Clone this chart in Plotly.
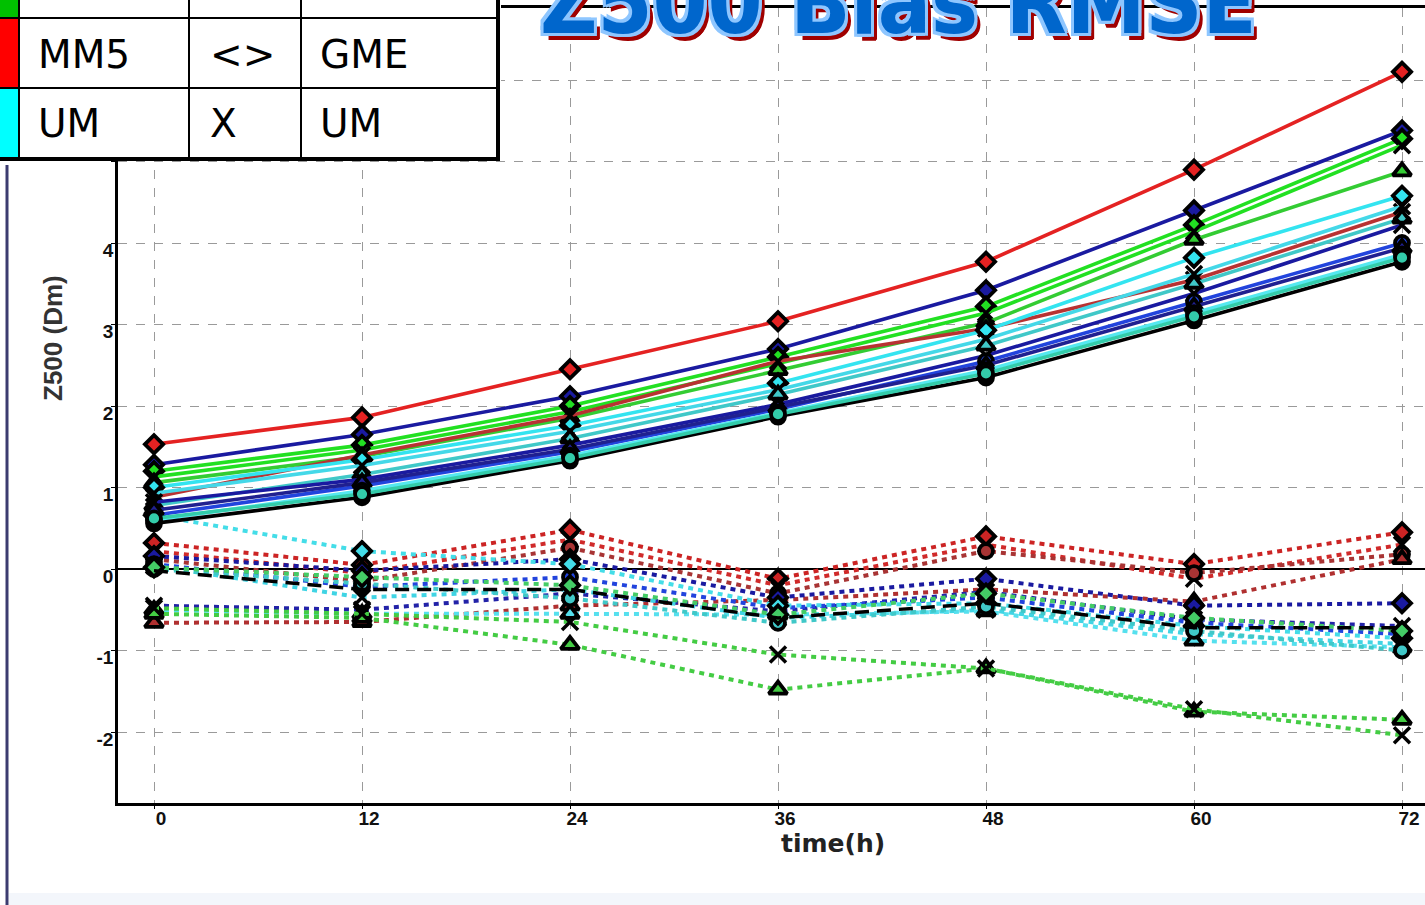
import plotly.graph_objects as go

W, H = 1425, 905

# ---------------- data ----------------
hours = [0, 12, 24, 36, 48, 60, 72]
x_ticks = [0, 12, 24, 36, 48, 60, 72]
y_ticks = [-2, -1, 0, 1, 2, 3, 4, 5, 6]
y_ticktext = ["-2", "-1", "0", "1", "2", "3", "4", "", ""]

# RMSE (solid lines)
rmse_names = ["MM5-GME", "R2-GME", "G1-GME", "G1-UM", "G1-T", "R3-UM", "UM-GME", "UM-UM",
              "T2-T", "R2-UM", "B1-C", "R2-T", "UM-C", "BK-C", "S1-C"]
rmse_values = [
    [1.53, 1.86, 2.45, 3.04, 3.77, 4.90, 6.10],
    [1.28, 1.65, 2.12, 2.70, 3.42, 4.40, 5.38],
    [1.20, 1.52, 2.00, 2.60, 3.22, 4.22, 5.28],
    [1.13, 1.46, 1.93, 2.52, 3.14, 4.14, 5.20],
    [1.06, 1.38, 1.85, 2.44, 3.02, 4.04, 4.88],
    [0.88, 1.40, 1.88, 2.55, 2.95, 3.55, 4.38],
    [1.00, 1.34, 1.76, 2.28, 2.93, 3.82, 4.58],
    [0.93, 1.27, 1.69, 2.20, 2.82, 3.62, 4.45],
    [0.78, 1.16, 1.60, 2.14, 2.74, 3.50, 4.30],
    [0.82, 1.10, 1.52, 2.02, 2.62, 3.38, 4.22],
    [0.66, 1.02, 1.44, 1.96, 2.55, 3.28, 4.00],
    [0.72, 1.06, 1.47, 1.98, 2.50, 3.22, 3.94],
    [0.60, 0.96, 1.39, 1.92, 2.44, 3.14, 3.86],
    [0.56, 0.88, 1.33, 1.87, 2.35, 3.05, 3.77],
    [0.62, 0.92, 1.36, 1.90, 2.40, 3.10, 3.82],
]
rmse_colors = ["#e42222", "#1a1aa0", "#22e022", "#22e022", "#33cc33", "#b83232", "#33e4f0",
               "#44d8e8", "#40c8c8", "#1a1aa0", "#2244dd", "#202090", "#55e8f0", "#000000", "#33ccaa"]
rmse_symbols = ["diamond", "diamond", "diamond", "x", "triangle-up", "x", "diamond", "x",
                "triangle-up", "x", "circle", "triangle-up", "circle", "circle", "circle"]

# Bias (dotted lines)
bias_names = ["MM5-GME b", "MM5-UM b", "R3-C b", "R3-T b", "R2-GME b", "R2-UM b", "B1-C b",
              "UM-GME b", "UM-UM b", "UM-T b", "T2-C b", "G1-GME b", "G1-T b", "G1-UM b"]
bias_values = [
    [0.32, 0.05, 0.48, -0.12, 0.40, 0.06, 0.45],
    [0.22, -0.05, 0.36, -0.20, 0.30, -0.12, 0.30],
    [0.12, -0.15, 0.26, -0.30, 0.22, -0.05, 0.18],
    [-0.66, -0.65, -0.45, -0.38, -0.25, -0.40, 0.12],
    [0.16, -0.02, 0.12, -0.35, -0.12, -0.45, -0.42],
    [-0.45, -0.50, -0.30, -0.52, -0.28, -0.62, -0.70],
    [0.06, -0.22, -0.10, -0.48, -0.35, -0.66, -0.80],
    [0.66, 0.22, 0.06, -0.45, -0.42, -0.70, -0.85],
    [0.04, -0.35, -0.25, -0.60, -0.50, -0.80, -0.92],
    [-0.50, -0.55, -0.55, -0.56, -0.52, -0.88, -0.96],
    [0.00, -0.18, -0.36, -0.66, -0.46, -0.76, -1.00],
    [0.02, -0.10, -0.20, -0.56, -0.30, -0.60, -0.76],
    [-0.55, -0.60, -0.93, -1.48, -1.22, -1.75, -1.85],
    [-0.48, -0.55, -0.65, -1.05, -1.22, -1.72, -2.04],
]
bias_colors = ["#cc2424", "#d02a2a", "#a83434", "#b03030", "#1a1aa0", "#2222a8", "#2244dd",
               "#44dde8", "#40d4e4", "#55e0ee", "#40c8c8", "#44cc66", "#44cc44", "#44cc44"]
bias_symbols = ["diamond", "x", "circle", "triangle-up", "diamond", "x", "circle",
                "diamond", "x", "triangle-up", "circle", "diamond", "triangle-up", "x"]

mean_bias = [-0.02, -0.25, -0.25, -0.60, -0.42, -0.72, -0.72]

# table legend
table_rows = [["", "", ""], ["MM5", "<>", "GME"], ["UM", "X", "UM"]]
table_swatches = ["#00c000", "#ff0000", "#00ffff"]

title_text = "Z500 Bias RMSE"
x_title = "time(h)"
y_title = "Z500 (Dm)"

# ---------------- helpers ----------------
def fx(px):
    return px / W

def fy(py):
    return 1 - py / H

def marker_for(symbol, color):
    if symbol == "x":
        return dict(symbol="x-thin", size=16, color="black", line=dict(color="black", width=3.5))
    return dict(symbol=symbol, size=14 if symbol != "triangle-up" else 16,
                color=color, line=dict(color="black", width=3.8))

fig = go.Figure()

for name, vals, col, sym in zip(bias_names, bias_values, bias_colors, bias_symbols):
    fig.add_trace(go.Scatter(x=hours, y=vals, mode="lines+markers", name=name,
                             line=dict(color=col, width=4, dash="5px,5px"),
                             marker=marker_for(sym, col)))

fig.add_trace(go.Scatter(x=hours, y=mean_bias, mode="lines", name="mean bias",
                         line=dict(color="black", width=3.5, dash="14px,8px")))

for name, vals, col, sym in zip(rmse_names, rmse_values, rmse_colors, rmse_symbols):
    fig.add_trace(go.Scatter(x=hours, y=vals, mode="lines+markers", name=name,
                             line=dict(color=col, width=3.6),
                             marker=marker_for(sym, col)))

# ---------------- layout ----------------
x_left_px, x_right_px = 118, 1425
y_top_px, y_bot_px = 8, 803
px_per_h = (1402 - 154) / 72.0
px_per_unit = 81.5
zero_px = 569
x_rng = [0 - (154 - x_left_px) / px_per_h, 72 + (x_right_px - 1402) / px_per_h]
y_rng = [-(y_bot_px - zero_px) / px_per_unit, (zero_px - y_top_px) / px_per_unit]

tickfont = dict(family="Liberation Sans, Arial", size=19, color="#111", weight="bold")

fig.update_layout(
    width=W, height=H,
    margin=dict(l=0, r=0, t=0, b=0),
    paper_bgcolor="white", plot_bgcolor="white",
    showlegend=False,
    xaxis=dict(domain=[fx(x_left_px), 1.0], range=x_rng, tickvals=x_ticks,
               ticktext=[str(t) for t in x_ticks],
               showgrid=True, gridcolor="#9a9a9a", griddash="dash", gridwidth=1,
               showline=True, linecolor="black", linewidth=2.5, mirror=True,
               ticks="outside", ticklen=3, tickcolor="black", tickfont=tickfont,
               ticklabelshift=7, ticklabelstandoff=-7, zeroline=False),
    yaxis=dict(domain=[fy(y_bot_px), fy(y_top_px)], range=y_rng, tickvals=y_ticks,
               ticktext=y_ticktext,
               showgrid=True, gridcolor="#9a9a9a", griddash="dash", gridwidth=1,
               showline=True, linecolor="black", linewidth=2.5,
               ticks="outside", ticklen=4, tickcolor="black", tickfont=tickfont,
               ticklabelshift=7, ticklabelstandoff=-6,
               zeroline=True, zerolinecolor="black", zerolinewidth=2),
)

shapes = []
annotations = []

# slide left border
shapes.append(dict(type="line", xref="paper", yref="paper", x0=fx(7), x1=fx(7), y0=fy(165), y1=0,
                   line=dict(color="#3c3c70", width=3)))
# bottom strip
shapes.append(dict(type="rect", xref="paper", yref="paper", x0=fx(9), x1=1, y0=0, y1=fy(893),
                   fillcolor="#f3f6fb", line=dict(width=0), layer="below"))

# table
tbl_x = [0, 19, 189, 301, 499]
tbl_y = [-52, 18, 88, 158]
shapes.append(dict(type="rect", xref="paper", yref="paper", x0=fx(0), x1=fx(501), y0=fy(161), y1=1.0,
                   fillcolor="white", line=dict(width=0)))
for i, col in enumerate(table_swatches):
    shapes.append(dict(type="rect", xref="paper", yref="paper", x0=fx(0), x1=fx(tbl_x[1]),
                       y0=fy(tbl_y[i + 1]), y1=fy(tbl_y[i]) if tbl_y[i] > 0 else 1.0,
                       fillcolor=col, line=dict(width=0)))
for xv in tbl_x[1:-1]:
    shapes.append(dict(type="line", xref="paper", yref="paper", x0=fx(xv), x1=fx(xv), y0=fy(158), y1=1.0,
                       line=dict(color="black", width=2)))
for yv in tbl_y[1:-1]:
    shapes.append(dict(type="line", xref="paper", yref="paper", x0=0, x1=fx(499), y0=fy(yv), y1=fy(yv),
                       line=dict(color="black", width=2)))
shapes.append(dict(type="line", xref="paper", yref="paper", x0=fx(498), x1=fx(498), y0=fy(160), y1=1.0,
                   line=dict(color="black", width=4)))
shapes.append(dict(type="line", xref="paper", yref="paper", x0=0, x1=fx(500), y0=fy(159), y1=fy(159),
                   line=dict(color="black", width=4)))

text_x = [36, 208, 318]
for r, row in enumerate(table_rows):
    yc = (max(tbl_y[r], -52) + tbl_y[r + 1]) / 2 + 1
    for c, txt in enumerate(row):
        if not txt:
            continue
        annotations.append(dict(text=txt, xref="paper", yref="paper", x=fx(text_x[c]), y=fy(yc),
                                xanchor="left", yanchor="middle", showarrow=False,
                                font=dict(family="DejaVu Sans, Verdana", size=39, color="black")))

# title (clipped at top)
annotations.append(dict(text=title_text, xref="paper", yref="paper", x=fx(898), y=fy(2),
                        xanchor="center", yanchor="middle", showarrow=False,
                        font=dict(family="DejaVu Sans Condensed, DejaVu Sans",
                                  size=88, color="#0066cc", weight="bold",
                                  shadow="-3px -3px 0 #8ec6ff, 3px -3px 0 #8ec6ff, -3px 3px 0 #8ec6ff, "
                                         "3px 3px 0 #8ec6ff, 0 3px 0 #8ec6ff, 3px 0 0 #8ec6ff, "
                                         "6px 6px 0 #a00000, 5px 7px 0 #a00000")))

# axis titles
annotations.append(dict(text=x_title, xref="paper", yref="paper", x=fx(833), y=fy(843),
                        xanchor="center", yanchor="middle", showarrow=False,
                        font=dict(family="DejaVu Sans", size=25, color="#222", weight="bold")))
annotations.append(dict(text=y_title, xref="paper", yref="paper", x=fx(53), y=fy(338),
                        xanchor="center", yanchor="middle", showarrow=False, textangle=-90,
                        font=dict(family="Liberation Sans, Arial", size=26, color="#333", weight="bold")))

fig.update_layout(shapes=shapes, annotations=annotations)

fig.write_html("out.html", config={"displayModeBar": False},
               post_script="document.body.style.margin='0';document.body.style.overflow='hidden';")
